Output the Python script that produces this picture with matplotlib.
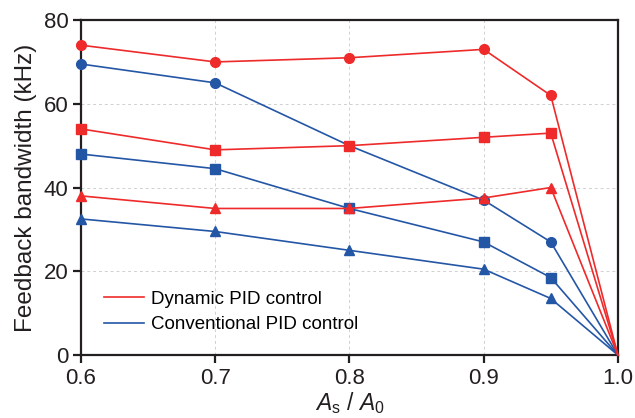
import matplotlib
matplotlib.use("Agg")
import matplotlib.pyplot as plt

plt.rcParams['font.family'] = ['Liberation Sans', 'DejaVu Sans']
plt.rcParams['mathtext.fontset'] = 'custom'
plt.rcParams['mathtext.rm'] = 'Liberation Sans'
plt.rcParams['mathtext.it'] = 'Liberation Sans:italic'

x = [0.6, 0.7, 0.8, 0.9, 0.95, 1.0]
dyn_circle = [74, 70, 71, 73, 62, 0]
dyn_square = [54, 49, 50, 52, 53, 0]
dyn_triangle = [38, 35, 35, 37.5, 40, 0]
conv_circle = [69.5, 65, 50, 37, 27, 0]
conv_square = [48, 44.5, 35, 27, 18.5, 0]
conv_triangle = [32.5, 29.5, 25, 20.5, 13.5, 0]

red = '#EE2A2A'
blue = '#2456A6'
dark = '#231F20'

fig = plt.figure(figsize=(6.35, 4.18), dpi=100)
ax = fig.add_axes([0.1276, 0.1507, 0.8454, 0.8013])

ax.grid(True, ls=(0, (3, 3)), color='#D0D0D0', lw=0.7)
ax.set_axisbelow(True)

mk = list(range(len(x) - 1))
kw = dict(lw=1.2, ms=7, clip_on=False, zorder=3, markevery=mk)
ax.plot(x, conv_circle, '-o', color=blue, **kw)
ax.plot(x, conv_square, '-s', color=blue, **kw)
ax.plot(x, conv_triangle, '-^', color=blue, **kw)
ax.plot(x, dyn_circle, '-o', color=red, **kw)
ax.plot(x, dyn_square, '-s', color=red, **kw)
ax.plot(x, dyn_triangle, '-^', color=red, **kw)

l1, = ax.plot([], [], '-', color=red, lw=1.2)
l2, = ax.plot([], [], '-', color=blue, lw=1.2)
ax.legend([l1, l2], ['Dynamic PID control', 'Conventional PID control'],
          loc='lower left', bbox_to_anchor=(0.012, 0.015),
          frameon=False, fontsize=13.5, handlelength=2.13, handletextpad=0.37,
          labelspacing=0.45)

ax.set_xlim(0.6, 1.0)
ax.set_ylim(0, 80)
ax.set_xticks([0.6, 0.7, 0.8, 0.9, 1.0])
ax.set_yticks([0, 20, 40, 60, 80])
for s in ax.spines.values():
    s.set_linewidth(1.6)
    s.set_color(dark)
ax.tick_params(direction='out', length=6, width=1.6, color=dark,
               labelsize=16, labelcolor=dark, pad=3)
ax.set_ylabel('Feedback bandwidth (kHz)', fontsize=17.5, color=dark, labelpad=5)
ax.set_xlabel(r'$A_\mathrm{s}$ / $A_0$', fontsize=16.5, color=dark, labelpad=1)

fig.savefig('out.png', dpi=100)
